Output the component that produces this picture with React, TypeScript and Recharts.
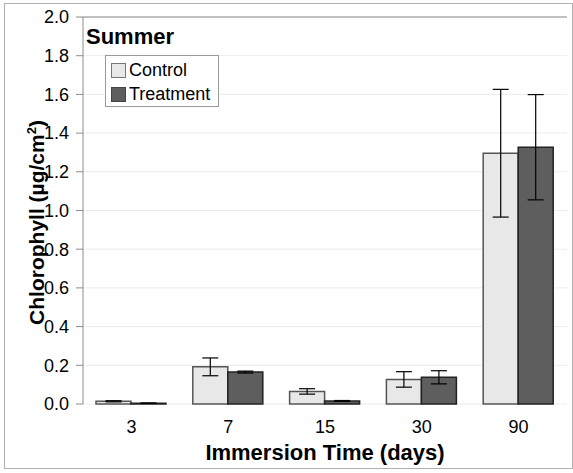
import React from "react";
import {
  Bar,
  BarChart,
  CartesianGrid,
  ErrorBar,
  ReferenceLine,
  XAxis,
  YAxis,
} from "recharts";

const FONT = '"Liberation Sans", Arial, sans-serif';
const AXIS = "#8c8c8c";
const GRID = "#ececec";
const LIGHT = "#e8e8e8";
const DARK = "#5e5e5e";

const days = ["3", "7", "15", "30", "90"];
const control = [0.014, 0.192, 0.065, 0.127, 1.296];
const controlErr = [0.003, 0.046, 0.014, 0.04, 0.33];
const treatment = [0.004, 0.165, 0.016, 0.138, 1.327];
const treatmentErr = [0.001, 0.005, 0.002, 0.034, 0.272];
const yTicks = [0, 0.2, 0.4, 0.6, 0.8, 1.0, 1.2, 1.4, 1.6, 1.8, 2.0];
const edgeTicks = [0, 1, 2, 3, 4, 5];

const data = days.map((d, i) => ({
  day: d,
  control: control[i],
  controlErr: controlErr[i],
  treatment: treatment[i],
  treatmentErr: treatmentErr[i],
}));

const legendItems = [
  { name: "Control", fill: LIGHT, stroke: "#777" },
  { name: "Treatment", fill: DARK, stroke: "#444" },
];

function LegendBox() {
  return (
    <div
      style={{
        position: "absolute",
        left: 105,
        top: 55,
        width: 114,
        height: 52,
        border: "1px solid #9a9a9a",
        background: "#fff",
        fontFamily: FONT,
        fontSize: 18,
        color: "#000",
        boxSizing: "border-box",
        padding: "2px 0 0 5px",
      }}
    >
      {legendItems.map((it) => (
        <div key={it.name} style={{ display: "flex", alignItems: "center", height: 24 }}>
          <span
            style={{
              display: "inline-block",
              width: 15,
              height: 15,
              background: it.fill,
              border: `1px solid ${it.stroke}`,
              marginRight: 3,
              boxSizing: "border-box",
            }}
          />
          {it.name}
        </div>
      ))}
    </div>
  );
}

function YTitle({ viewBox }: any) {
  const cy = viewBox.y + viewBox.height / 2 + 12;
  return (
    <text
      transform={`translate(44, ${cy}) rotate(-90)`}
      textAnchor="middle"
      fontFamily={FONT}
      fontWeight="bold"
      fontSize={21}
      fill="#000"
    >
      Chlorophyll (µg/cm
      <tspan fontSize={13} dy={-8}>2</tspan>
      <tspan dy={8}>)</tspan>
    </text>
  );
}

function XTitle({ viewBox }: any) {
  return (
    <text
      x={viewBox.x + viewBox.width / 2}
      y={460}
      textAnchor="middle"
      fontFamily={FONT}
      fontWeight="bold"
      fontSize={22}
      fill="#000"
    >
      Immersion Time (days)
    </text>
  );
}

export default function App() {
  return (
    <div style={{ position: "absolute", left: 0, top: 0, width: 573, height: 473, background: "#fff" }}>
      <div
        style={{
          position: "absolute",
          left: 4,
          top: 3,
          width: 567,
          height: 464,
          border: "1px solid #b0b0b0",
          pointerEvents: "none",
        }}
      />
      <BarChart
        width={573}
        height={473}
        data={data}
        margin={{ top: 17, right: 6, bottom: 0, left: 0 }}
        barGap={0}
        style={{ fontFamily: FONT }}
      >
        <CartesianGrid horizontal vertical={false} stroke={GRID} />
        <XAxis
          xAxisId="edges"
          type="number"
          domain={[0, 5]}
          ticks={edgeTicks}
          tick={false}
          tickSize={6}
          height={0}
          stroke={AXIS}
          allowDataOverflow
        />
        <XAxis
          xAxisId="cat"
          dataKey="day"
          axisLine={false}
          tickLine={false}
          tickSize={6}
          tickMargin={10}
          tick={{ fill: "#000", fontSize: 18, fontFamily: FONT }}
          height={69}
          label={<XTitle />}
        />
        <YAxis
          domain={[0, 2]}
          ticks={yTicks}
          tickFormatter={(v) => v.toFixed(1)}
          width={83}
          tickSize={7}
          tickMargin={7}
          stroke={AXIS}
          tick={{ fill: "#000", fontSize: 18, fontFamily: FONT }}
          label={<YTitle />}
        />
        <ReferenceLine y={2} stroke={AXIS} />
        <ReferenceLine x={5} xAxisId="edges" stroke={AXIS} />
        <Bar
          xAxisId="cat"
          dataKey="control"
          name="Control"
          fill={LIGHT}
          stroke="#555"
          strokeWidth={1.5}
          barSize={35}
          isAnimationActive={false}
        >
          <ErrorBar dataKey="controlErr" width={8} stroke="#000" strokeWidth={1.2} direction="y" />
        </Bar>
        <Bar
          xAxisId="cat"
          dataKey="treatment"
          name="Treatment"
          fill={DARK}
          stroke="#222"
          strokeWidth={1.5}
          barSize={35}
          isAnimationActive={false}
        >
          <ErrorBar dataKey="treatmentErr" width={8} stroke="#000" strokeWidth={1.2} direction="y" />
        </Bar>
      </BarChart>
      <LegendBox />
      <div
        style={{
          position: "absolute",
          left: 86,
          top: 24,
          fontFamily: FONT,
          fontWeight: "bold",
          fontSize: 22,
          color: "#000",
          lineHeight: "26px",
        }}
      >
        Summer
      </div>
    </div>
  );
}
